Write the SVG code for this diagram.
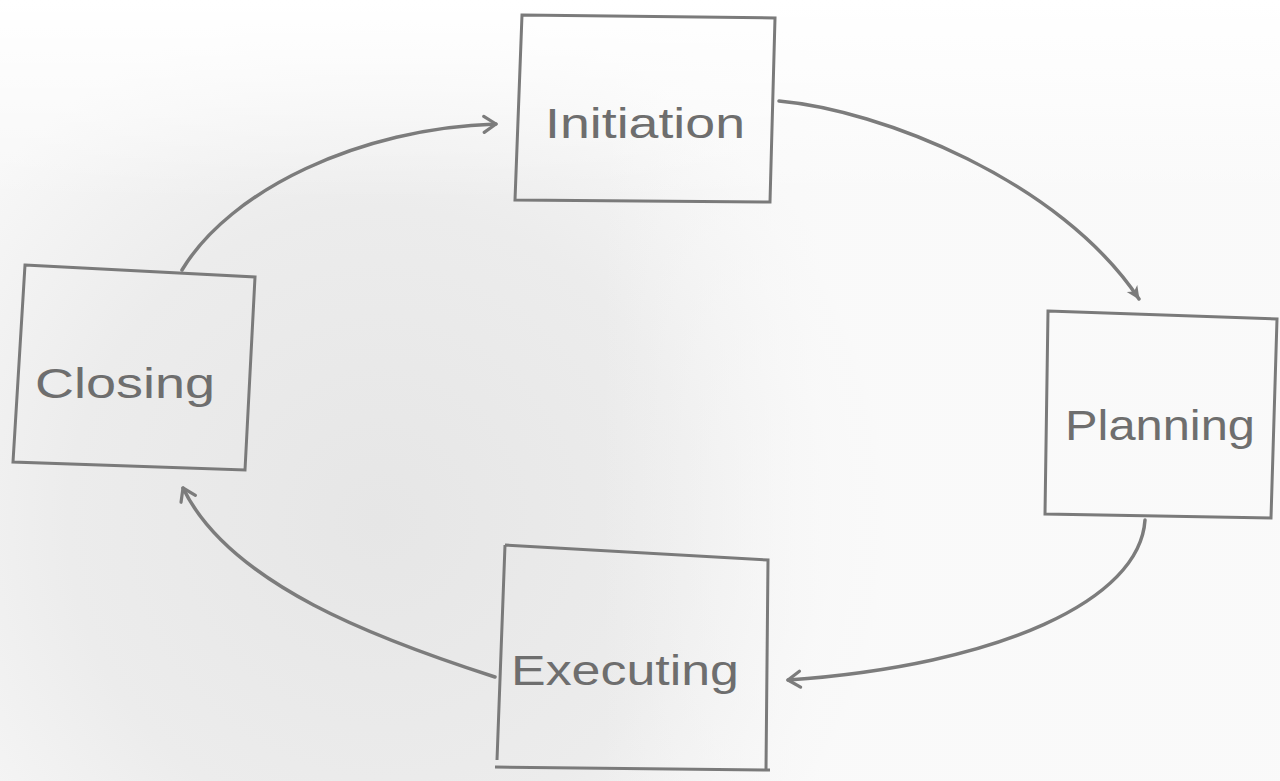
<svg xmlns="http://www.w3.org/2000/svg" width="1280" height="781" viewBox="0 0 1280 781">
  <defs>
    <style>
      .box { fill: none; stroke: #7a7a7a; stroke-width: 3; stroke-linejoin: miter; }
      .label { font-family: "Liberation Sans", "DejaVu Sans", sans-serif; font-size: 42px; fill: #6e6e6e; }
      .conn { fill: none; stroke: #7c7c7c; stroke-width: 3.5; stroke-linecap: round; }
    </style>
    <marker id="chev" viewBox="0 0 20 20" refX="16" refY="10" markerWidth="20" markerHeight="20" markerUnits="userSpaceOnUse" orient="auto">
      <path d="M4,2 L16,10 L4,18" fill="none" stroke="#7c7c7c" stroke-width="3.2" stroke-linecap="round" stroke-linejoin="round"/>
    </marker>
    <marker id="tri" viewBox="0 0 20 20" refX="16" refY="10" markerWidth="18" markerHeight="18" markerUnits="userSpaceOnUse" orient="auto">
      <path d="M2,3 L17,10 L2,17 L6,10 Z" fill="#7c7c7c"/>
    </marker>
    <radialGradient id="shade" cx="380" cy="520" r="520" gradientUnits="userSpaceOnUse">
      <stop offset="0" stop-color="#e6e6e6"/>
      <stop offset="0.6" stop-color="#ececec"/>
      <stop offset="1" stop-color="#f7f7f7"/>
    </radialGradient>
    <linearGradient id="topfade" x1="0" y1="0" x2="0" y2="1">
      <stop offset="0" stop-color="#ffffff" stop-opacity="1"/>
      <stop offset="1" stop-color="#ffffff" stop-opacity="0"/>
    </linearGradient>
    <linearGradient id="rightfade" x1="600" y1="0" x2="820" y2="0" gradientUnits="userSpaceOnUse">
      <stop offset="0" stop-color="#fafafa" stop-opacity="0"/>
      <stop offset="1" stop-color="#fafafa" stop-opacity="0.75"/>
    </linearGradient>
  </defs>

  <rect x="0" y="0" width="1280" height="781" fill="url(#shade)"/>
  <rect x="0" y="0" width="1280" height="781" fill="url(#rightfade)"/>
  <rect x="0" y="0" width="1280" height="200" fill="url(#topfade)"/>

  <g id="connectors">
    <path class="conn" d="M182,270 C230,190 360,128 496,124" marker-end="url(#chev)"/>
    <path class="conn" d="M779,101 C880,110 1060,180 1139,299" marker-end="url(#tri)"/>
    <path class="conn" d="M1145,520 C1140,600 1000,665 788,680" marker-end="url(#chev)"/>
    <path class="conn" d="M495,677 C380,640 230,585 183,488" marker-end="url(#chev)"/>
  </g>

  <g id="node-initiation">
    <path class="box" d="M522,15 L775,18 L770,202 L515,200 Z"/>
    <text class="label" x="645" y="138" text-anchor="middle" textLength="200" lengthAdjust="spacingAndGlyphs">Initiation</text>
  </g>

  <g id="node-planning">
    <path class="box" d="M1048,311 L1277,319 L1271,518 L1045,514 Z"/>
    <text class="label" x="1160" y="440" text-anchor="middle" textLength="190" lengthAdjust="spacingAndGlyphs">Planning</text>
  </g>

  <g id="node-executing">
    <path class="box" d="M505,545 L768,560 L766,770 M497,760 L505,545 M495,767 L770,770"/>
    <text class="label" x="625" y="685" text-anchor="middle" textLength="228" lengthAdjust="spacingAndGlyphs">Executing</text>
  </g>

  <g id="node-closing">
    <path class="box" d="M25,265 L255,277 L245,470 L13,462 Z"/>
    <text class="label" x="125" y="398" text-anchor="middle" textLength="180" lengthAdjust="spacingAndGlyphs">Closing</text>
  </g>
</svg>
